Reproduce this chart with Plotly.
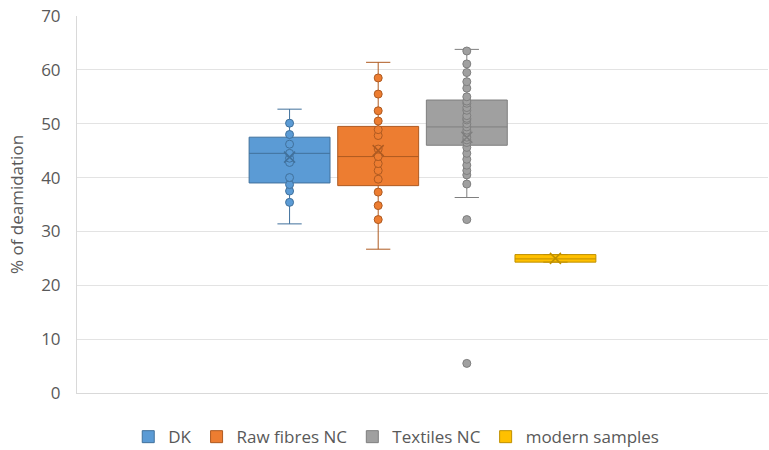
import plotly.graph_objects as go

# ---------------- data ----------------
category = ["Deamidation"]
series_names = ["DK", "Raw fibres NC", "Textiles NC", "modern samples"]

# box statistics
q1_vals = [39.0, 38.5, 46.0, 24.3]
median_vals = [44.5, 43.9, 49.4, 24.9]
q3_vals = [47.5, 49.5, 54.4, 25.7]
lower_whisker = [31.4, 26.7, 36.3, 24.3]
upper_whisker = [52.7, 61.4, 63.8, 25.7]
mean_vals = [43.8, 45.0, 47.5, 25.0]

# individual points shown on the chart (inner points and outliers)
dk_points = [50.1, 48.0, 46.2, 44.5, 43.6, 42.8, 40.0, 38.7, 37.5, 35.4]
raw_points = [58.5, 55.5, 52.4, 50.5, 48.9, 47.8, 45.3, 43.9, 42.6, 41.3,
              39.7, 37.3, 34.8, 32.2]
tex_points = [63.5, 61.1, 59.5, 57.8, 56.6, 55.0, 54.2, 53.8, 53.0, 52.5,
              51.5, 51.0, 50.7, 50.0, 49.4, 48.8, 48.3, 47.5, 47.0, 46.5,
              45.6, 44.5, 43.4, 42.3, 41.3, 40.5, 38.8, 32.2, 5.5]
modern_points = []
points_by_series = [dk_points, raw_points, tex_points, modern_points]

# ---------------- styling ----------------
fill_colors = ["#5B9BD5", "#ED7D31", "#A0A0A0", "#FFC000"]
line_colors = ["#41719C", "#AE5A21", "#7F7F7F", "#BF9000"]
FONT = "Open Sans"
TEXT_COLOR = "#595959"
FS = 17

fig = go.Figure()
for i, name in enumerate(series_names):
    # the box itself (statistics)
    fig.add_trace(go.Box(
        name=name, x=category,
        q1=[q1_vals[i]], median=[median_vals[i]], q3=[q3_vals[i]],
        lowerfence=[lower_whisker[i]], upperfence=[upper_whisker[i]],
        fillcolor=fill_colors[i],
        line=dict(color=line_colors[i], width=1),
        whiskerwidth=0.3, boxpoints=False,
        offsetgroup=name, legendgroup=name, hoverinfo="skip",
    ))
    pts = points_by_series[i]
    if pts:
        fig.add_trace(go.Box(
            name=name, x=category * len(pts), y=pts,
            boxpoints="all", jitter=0, pointpos=0,
            fillcolor="rgba(0,0,0,0)", line=dict(color=line_colors[i], width=0),
            marker=dict(color=fill_colors[i], size=8,
                        line=dict(color=line_colors[i], width=1)),
            offsetgroup=name, legendgroup=name, showlegend=False,
        ))
    # mean marker (x)
    fig.add_trace(go.Box(
        name=name, x=category, y=[mean_vals[i]],
        boxpoints="all", jitter=0, pointpos=0,
        fillcolor="rgba(0,0,0,0)", line=dict(color=line_colors[i], width=0),
        marker=dict(symbol="x-thin-open", color=line_colors[i], size=11,
                    line=dict(color=line_colors[i], width=1.5)),
        offsetgroup=name, legendgroup=name, showlegend=False,
    ))

fig.update_layout(
    width=769, height=450,
    margin=dict(l=77, r=1, t=16, b=57, autoexpand=False),
    plot_bgcolor="white", paper_bgcolor="white",
    boxmode="group", boxgap=0.487, boxgroupgap=0.087,
    font=dict(family=FONT, size=FS, color=TEXT_COLOR),
    legend=dict(orientation="h", x=0.462, xanchor="center",
                y=-0.117, yanchor="middle",
                font=dict(family=FONT, size=FS, color=TEXT_COLOR),
                itemclick=False),
    showlegend=True,
)
fig.update_yaxes(
    range=[0, 70], dtick=10, showgrid=True, gridcolor="#E3E3E3", gridwidth=1,
    showline=True, linecolor="#D9D9D9", linewidth=1, zeroline=False,
    ticks="", ticklabelstandoff=12, automargin=False,
    tickfont=dict(family=FONT, size=FS, color=TEXT_COLOR),
    title=dict(text="% of deamidation", standoff=13,
               font=dict(family=FONT, size=FS, color=TEXT_COLOR)),
)
fig.update_xaxes(
    type="category", range=[-0.5, 0.5], showticklabels=False,
    showgrid=False, showline=True, linecolor="#D9D9D9", linewidth=1,
    zeroline=False, ticks="", automargin=False,
)

fig.write_html(
    "out.html",
    config={"displayModeBar": False},
    post_script="document.body.style.margin='0';document.body.style.overflow='hidden';",
)
